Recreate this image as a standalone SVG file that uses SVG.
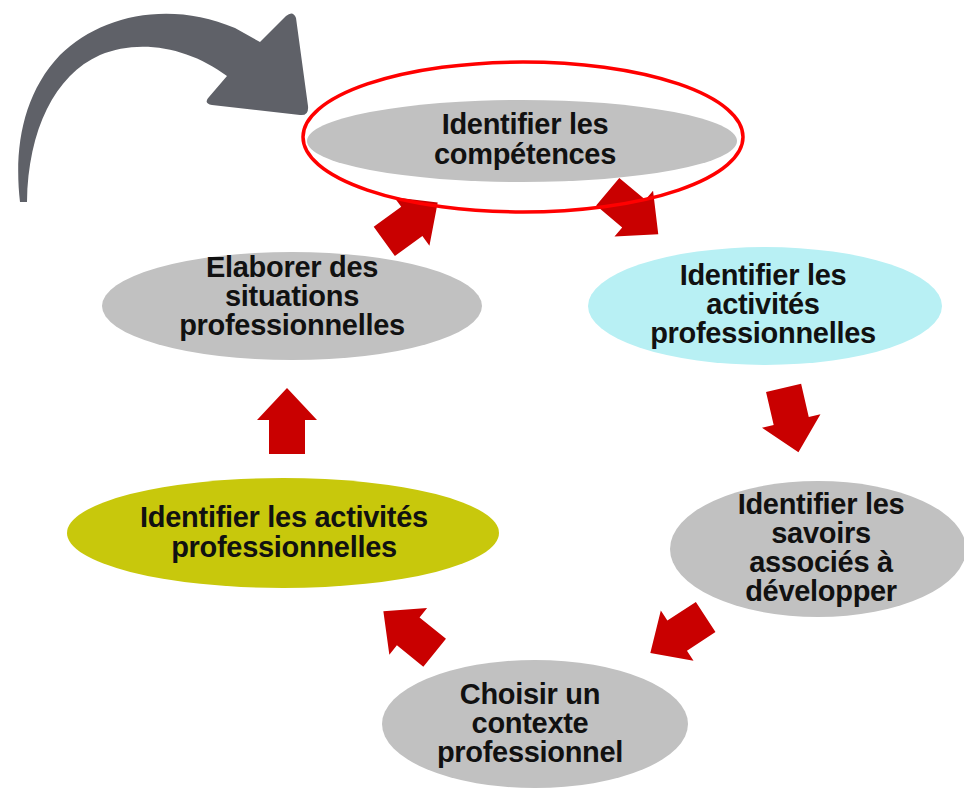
<svg xmlns="http://www.w3.org/2000/svg" width="964" height="791" viewBox="0 0 964 791">
<defs>
<style>
.lbl{font-family:"Liberation Sans",Arial,sans-serif;font-weight:bold;font-size:29px;fill:#111;text-anchor:middle;letter-spacing:-0.3px}
.gray{fill:#c1c1c1}
.ra{fill:#c90000}
</style>
<path id="rarrow" d="M0,-33 L30,-1 L18,-1 L18,33 L-18,33 L-18,-1 L-30,-1 Z"/>
</defs>
<rect width="964" height="791" fill="#ffffff"/>
<g id="loop-arrow">
<path fill="#5f6168" d="M20,202 C14,150 22,95 60,55 C100,15 170,0 235,28 L260,42 L286,16 Q293,10 296,18 L308,106 Q309,116 300,115 L212,105 Q203,103 209,97 L227,76 C190,48 140,38 100,55 C55,75 28,130 27,202 Z"/>
</g>
<g id="node1">
<ellipse class="gray" cx="522" cy="141" rx="215" ry="41"/>
<text class="lbl" x="525" y="134">Identifier les</text>
<text class="lbl" x="525" y="164">compétences</text>
</g>
<g id="node2">
<ellipse fill="#b8f0f4" cx="765" cy="306" rx="177" ry="59"/>
<text class="lbl" x="763" y="285">Identifier les</text>
<text class="lbl" x="763" y="314">activités</text>
<text class="lbl" x="763" y="343">professionnelles</text>
</g>
<g id="node3">
<ellipse class="gray" cx="818" cy="549" rx="148" ry="68"/>
<text class="lbl" x="821" y="514">Identifier les</text>
<text class="lbl" x="821" y="543">savoirs</text>
<text class="lbl" x="821" y="572">associés à</text>
<text class="lbl" x="821" y="601">développer</text>
</g>
<g id="node4">
<ellipse class="gray" cx="535" cy="724" rx="153" ry="64"/>
<text class="lbl" x="530" y="704">Choisir un</text>
<text class="lbl" x="530" y="733">contexte</text>
<text class="lbl" x="530" y="762">professionnel</text>
</g>
<g id="node5">
<ellipse fill="#c8c80c" cx="283" cy="533" rx="216" ry="55"/>
<text class="lbl" x="284" y="527">Identifier les activités</text>
<text class="lbl" x="284" y="557">professionnelles</text>
</g>
<g id="node6">
<ellipse class="gray" cx="292" cy="306" rx="190" ry="54"/>
<text class="lbl" x="292" y="277">Elaborer des</text>
<text class="lbl" x="292" y="306">situations</text>
<text class="lbl" x="292" y="335">professionnelles</text>
</g>
<g id="connectors">
<use href="#rarrow" class="ra" transform="translate(411,222) rotate(54)"/>
<use href="#rarrow" class="ra" transform="translate(633,213) rotate(130)"/>
<use href="#rarrow" class="ra" transform="translate(791,420) rotate(167)"/>
<use href="#rarrow" class="ra" transform="translate(678,635) rotate(237)"/>
<use href="#rarrow" class="ra" transform="translate(409,632) rotate(-51)"/>
<use href="#rarrow" class="ra" transform="translate(287,421)"/>
</g>
<g id="highlight">
<ellipse cx="523" cy="137" rx="220" ry="75" fill="none" stroke="#ff0000" stroke-width="3.5"/>
</g>
</svg>
